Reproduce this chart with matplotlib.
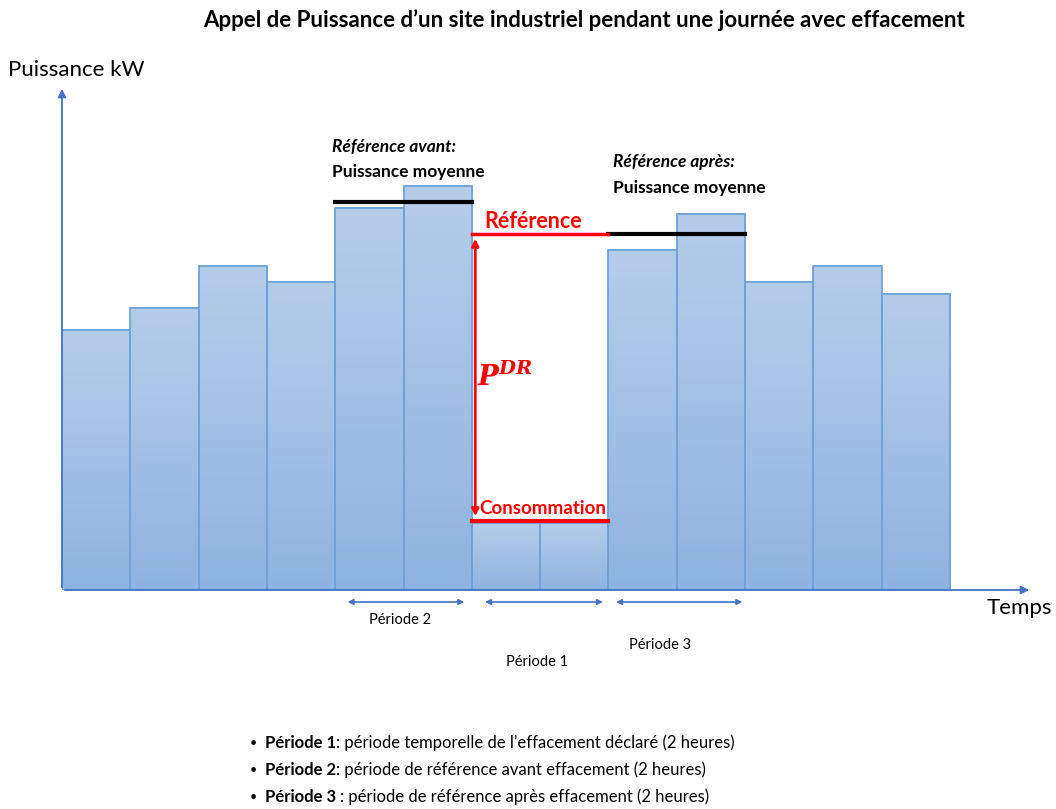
import matplotlib.pyplot as plt
import numpy as np
from matplotlib.colors import LinearSegmentedColormap

plt.rcParams['font.family'] = ['Lato', 'DejaVu Sans']

# puissance appelee par pas de temps (kW)
puissance = [65, 70.5, 81, 77, 95.5, 101, 16.75, 16.75, 85, 94, 77, 81, 74]
ref_avant = 97
ref_apres = 89
reference = 89
consommation = 17.25
periodes = ["Période 2", "Période 1", "Période 3"]
bullets_bold = ["Période 1", "Période 2", "Période 3 "]
bullets_text = [": période temporelle de l\u2019effacement déclaré (2 heures)",
                ": période de référence avant effacement (2 heures)",
                ": période de référence après effacement (2 heures)"]

fig = plt.figure(figsize=(10.56, 8.09), dpi=100)
ax = fig.add_axes([62 / 1056, 219 / 809, 970 / 1056, 505 / 809])
ax.set_xlim(0, 14.2)
ax.set_ylim(0, 126.25)
ax.axis("off")

blue = "#4472c4"
cmap = LinearSegmentedColormap.from_list("bar", ["#b6cdea", "#8fb3e0"])
grad = np.linspace(0, 1, 100).reshape(-1, 1)
for i, h in enumerate(puissance):
    ax.imshow(grad, cmap=cmap, extent=(i, i + 1, 0, h), origin="upper", aspect="auto", zorder=1)
bars = ax.bar(np.arange(len(puissance)) + 0.5, puissance, width=1, facecolor="none",
              edgecolor="#6fa2da", linewidth=1.3, zorder=2)

# axes fleches
ax.annotate("", xy=(0, 126), xytext=(0, 0),
            arrowprops=dict(arrowstyle="-|>", color=blue, lw=1.3, mutation_scale=12), annotation_clip=False)
ax.annotate("", xy=(14.2, 0), xytext=(0, 0),
            arrowprops=dict(arrowstyle="-|>", color=blue, lw=1.3, mutation_scale=12), annotation_clip=False)

# lignes de reference
ax.plot([4, 6], [ref_avant, ref_avant], color="black", lw=3, zorder=4)
ax.plot([8, 10], [ref_apres, ref_apres], color="black", lw=3, zorder=4)
ax.plot([6, 8], [reference, reference], color="red", lw=2.5, zorder=4)
ax.plot([6, 8], [consommation, consommation], color="red", lw=3, zorder=4)
ax.annotate("", xy=(6.05, reference - 0.5), xytext=(6.05, consommation + 0.5),
            arrowprops=dict(arrowstyle="<|-|>", color="red", lw=2, mutation_scale=10), zorder=5)

ax.text(6.9, 92, "Référence", color="red", fontsize=15.5, fontweight="bold", ha="center", va="center")
ax.text(7.04, 20.3, "Consommation", color="red", fontsize=13.5, fontweight="bold", ha="center", va="center",
        bbox=dict(facecolor="white", edgecolor="none", pad=0.5))
ax.text(6.08, 53.5, r"$\mathbfit{P}^{\mathbfit{DR}}$", color="red", fontsize=20, ha="left", va="center",
        math_fontfamily="dejavuserif")

ax.text(3.95, 110.7, "Référence avant:", fontsize=12.5, fontweight="bold", style="italic", va="center")
ax.text(3.95, 104.5, "Puissance moyenne", fontsize=12.5, fontweight="bold", va="center")
ax.text(8.07, 107, "Référence après:", fontsize=12.5, fontweight="bold", style="italic", va="center")
ax.text(8.07, 100.5, "Puissance moyenne", fontsize=12.5, fontweight="bold", va="center")

# periodes
spans = [(4.14, 5.93), (6.15, 7.96), (8.07, 10.0)]
lab_pos = [(4.95, -7.5), (6.95, -18), (8.76, -13.75)]
for (a, b), lab, (lx, ly) in zip(spans, periodes, lab_pos):
    ax.annotate("", xy=(b, -3), xytext=(a, -3),
                arrowprops=dict(arrowstyle="<|-|>", color=blue, lw=1.2, mutation_scale=8),
                annotation_clip=False)
    ax.text(lx, ly, lab, fontsize=10.5, ha="center", va="center", clip_on=False)

fig.text(584 / 1056, 1 - 20 / 809, "Appel de Puissance d\u2019un site industriel pendant une journée avec effacement",
         fontsize=16, fontweight="bold", ha="center", va="center")
fig.text(8 / 1056, 1 - 70 / 809, "Puissance kW", fontsize=16, ha="left", va="center")
fig.text(1052 / 1056, 1 - 608 / 809, "Temps", fontsize=16, ha="right", va="center")

for k, (bb, tt) in enumerate(zip(bullets_bold, bullets_text)):
    y = 1 - (743 + 27 * k) / 809
    fig.text(250 / 1056, y, "\u2022", fontsize=9, ha="left", va="center")
    t = fig.text(265 / 1056, y, bb, fontsize=12, fontweight="bold", ha="left", va="center")
    ax.annotate(tt, xy=(1, 0.5), xycoords=t, fontsize=12, ha="left", va="center",
                annotation_clip=False)

fig.savefig("out.png", dpi=100)
